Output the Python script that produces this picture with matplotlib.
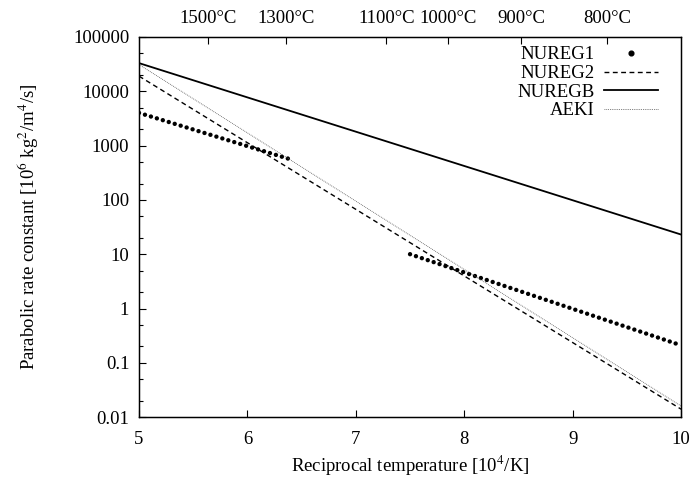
import matplotlib
matplotlib.use("Agg")
import matplotlib.pyplot as plt
from matplotlib.lines import Line2D
from matplotlib.ticker import LogLocator, FixedLocator, NullFormatter

plt.rcParams["font.family"] = "Liberation Serif"
plt.rcParams["mathtext.fontset"] = "stix"
FS = 13.5

# --- data ---
x_ends = [5, 10]
nureg2 = [19000, 0.014]
nuregb = [33000, 23]
aeki = [31000, 0.016]
nureg1_a_x = [5, 6.42]
nureg1_a_y = [4000, 540]
nureg1_b_x = [7.5, 10]
nureg1_b_y = [10, 0.21]
temps_c = [1500, 1300, 1100, 1000, 900, 800]
yticks = [0.01, 0.1, 1, 10, 100, 1000, 10000, 100000]
ylabels = ["0.01", "0.1", "1", "10", "100", "1000", "10000", "100000"]

fig = plt.figure(figsize=(6.95, 4.8), dpi=100)
ax = fig.add_axes([0.2, 0.131, 0.78, 0.792])

dots = dict(color="black", lw=3.2, ls=(0, (0.001, 1.4)), dash_capstyle="round")
ax.plot(nureg1_a_x, nureg1_a_y, **dots)
ax.plot(nureg1_b_x, nureg1_b_y, **dots)
ax.plot(x_ends, nureg2, color="black", lw=1.0, ls=(0, (3.5, 2.5)))
ax.plot(x_ends, nuregb, color="black", lw=1.3)
ax.plot(x_ends, aeki, color="#555555", lw=0.6, ls=(0, (1, 1.2)))

ax.set_yscale("log")
ax.set_xlim(5, 10)
ax.set_ylim(0.01, 100000)
ax.set_yticks(yticks)
ax.set_yticklabels(ylabels)
ax.yaxis.set_minor_locator(LogLocator(base=10, subs=[2, 5], numticks=20))
ax.yaxis.set_minor_formatter(NullFormatter())
ax.set_xticks([5, 6, 7, 8, 9, 10])
ax.tick_params(direction="in", labelsize=FS, length=5, width=0.8, pad=7,
               top=False, right=False)
ax.tick_params(axis="x", pad=10)
ax.tick_params(which="minor", direction="in", length=3, width=0.8, right=False)
for s in ax.spines.values():
    s.set_linewidth(1.0)

# top axis: temperatures in deg C
top = ax.twiny()
top.set_xlim(5, 10)
top.xaxis.set_major_locator(FixedLocator([1e4 / (t + 273.15) for t in temps_c]))
top.set_xticklabels(["%d°C" % t for t in temps_c])
top.tick_params(direction="in", labelsize=FS, length=5, width=0.8, pad=7)

ax.set_xlabel("Reciprocal temperature [10$^4$/K]", fontsize=FS, labelpad=4)
ax.set_ylabel("Parabolic rate constant [10$^6$ kg$^2$/m$^4$/s]", fontsize=FS, labelpad=23)

handles = [
    Line2D([], [], ls="none", marker="o", ms=3.4, color="black", label="NUREG1"),
    Line2D([], [], color="black", lw=1.0, ls=(0, (3.5, 2.5)), label="NUREG2"),
    Line2D([], [], color="black", lw=1.3, label="NUREGB"),
    Line2D([], [], color="#555555", lw=0.6, ls=(0, (1, 1.2)), label="AEKI"),
]
ax.legend(handles=handles, loc="upper right", frameon=False, fontsize=FS,
          markerfirst=False, handlelength=2.9, handletextpad=0.5,
          labelspacing=0.08, borderaxespad=0.1, bbox_to_anchor=(0.975, 1.0))

fig.savefig("out.png", dpi=100, facecolor="white")
